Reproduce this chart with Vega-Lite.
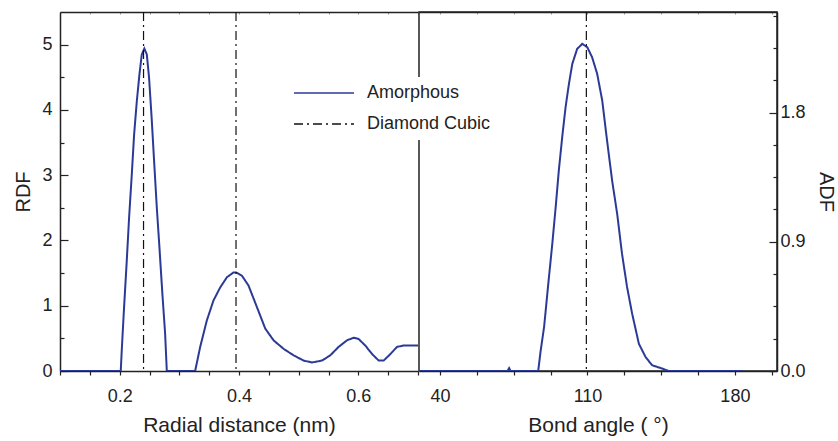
{
  "$schema": "https://vega.github.io/schema/vega-lite/v6.json",
  "padding": {"left": 13, "top": 10, "right": 2, "bottom": 5},
  "spacing": -1.5,
  "config": {
    "font": "Liberation Sans",
    "view": {"stroke": "#222", "strokeWidth": 1.5},
    "axis": {
      "domainColor": "#222", "domainWidth": 1.5, "tickColor": "#222", "tickWidth": 1.2,
      "labelColor": "#222", "titleColor": "#222", "labelFontSize": 18, "titleFontSize": 21,
      "titleFontWeight": "normal", "grid": false, "labelFont": "Liberation Sans", "titleFont": "Liberation Sans",
      "labelOverlap": false, "labelFlush": false
    }
  },
  "datasets": {
    "rdf": [
      {"r": 0.1, "g": 0, "series": "Amorphous"},
      {"r": 0.2018, "g": 0, "series": "Amorphous"},
      {"r": 0.2035, "g": 0.317, "series": "Amorphous"},
      {"r": 0.2074, "g": 0.979, "series": "Amorphous"},
      {"r": 0.2119, "g": 1.69, "series": "Amorphous"},
      {"r": 0.2158, "g": 2.35, "series": "Amorphous"},
      {"r": 0.2203, "g": 3.01, "series": "Amorphous"},
      {"r": 0.2242, "g": 3.62, "series": "Amorphous"},
      {"r": 0.2287, "g": 4.13, "series": "Amorphous"},
      {"r": 0.2331, "g": 4.54, "series": "Amorphous"},
      {"r": 0.2371, "g": 4.85, "series": "Amorphous"},
      {"r": 0.2414, "g": 4.94, "series": "Amorphous"},
      {"r": 0.2455, "g": 4.85, "series": "Amorphous"},
      {"r": 0.2493, "g": 4.49, "series": "Amorphous"},
      {"r": 0.2539, "g": 3.83, "series": "Amorphous"},
      {"r": 0.2577, "g": 3.22, "series": "Amorphous"},
      {"r": 0.2622, "g": 2.51, "series": "Amorphous"},
      {"r": 0.2666, "g": 1.9, "series": "Amorphous"},
      {"r": 0.2716, "g": 1.18, "series": "Amorphous"},
      {"r": 0.2762, "g": 0.57, "series": "Amorphous"},
      {"r": 0.279, "g": 0, "series": "Amorphous"},
      {"r": 0.3265, "g": 0, "series": "Amorphous"},
      {"r": 0.3349, "g": 0.367, "series": "Amorphous"},
      {"r": 0.3461, "g": 0.775, "series": "Amorphous"},
      {"r": 0.3572, "g": 1.08, "series": "Amorphous"},
      {"r": 0.3685, "g": 1.28, "series": "Amorphous"},
      {"r": 0.3797, "g": 1.436, "series": "Amorphous"},
      {"r": 0.3908, "g": 1.51, "series": "Amorphous"},
      {"r": 0.3953, "g": 1.51, "series": "Amorphous"},
      {"r": 0.4049, "g": 1.46, "series": "Amorphous"},
      {"r": 0.4159, "g": 1.31, "series": "Amorphous"},
      {"r": 0.43, "g": 0.98, "series": "Amorphous"},
      {"r": 0.444, "g": 0.65, "series": "Amorphous"},
      {"r": 0.4579, "g": 0.47, "series": "Amorphous"},
      {"r": 0.4747, "g": 0.34, "series": "Amorphous"},
      {"r": 0.4915, "g": 0.24, "series": "Amorphous"},
      {"r": 0.5082, "g": 0.16, "series": "Amorphous"},
      {"r": 0.5223, "g": 0.13, "series": "Amorphous"},
      {"r": 0.5391, "g": 0.16, "series": "Amorphous"},
      {"r": 0.553, "g": 0.24, "series": "Amorphous"},
      {"r": 0.567, "g": 0.37, "series": "Amorphous"},
      {"r": 0.581, "g": 0.47, "series": "Amorphous"},
      {"r": 0.5921, "g": 0.51, "series": "Amorphous"},
      {"r": 0.6005, "g": 0.49, "series": "Amorphous"},
      {"r": 0.6117, "g": 0.39, "series": "Amorphous"},
      {"r": 0.623, "g": 0.26, "series": "Amorphous"},
      {"r": 0.6341, "g": 0.16, "series": "Amorphous"},
      {"r": 0.6425, "g": 0.16, "series": "Amorphous"},
      {"r": 0.6537, "g": 0.26, "series": "Amorphous"},
      {"r": 0.6649, "g": 0.37, "series": "Amorphous"},
      {"r": 0.676, "g": 0.39, "series": "Amorphous"},
      {"r": 0.7, "g": 0.39, "series": "Amorphous"}
    ],
    "rdfdc": [
      {"r": 0.24, "series": "Diamond Cubic"},
      {"r": 0.395, "series": "Diamond Cubic"}
    ],
    "adf": [
      {"a": 30, "f": 0, "series": "Amorphous"},
      {"a": 72, "f": 0, "series": "Amorphous"},
      {"a": 72.8, "f": 0.02, "series": "Amorphous"},
      {"a": 73.5, "f": 0, "series": "Amorphous"},
      {"a": 86.6, "f": 0, "series": "Amorphous"},
      {"a": 87.8, "f": 0.144, "series": "Amorphous"},
      {"a": 89.4, "f": 0.306, "series": "Amorphous"},
      {"a": 91.4, "f": 0.608, "series": "Amorphous"},
      {"a": 93.3, "f": 0.886, "series": "Amorphous"},
      {"a": 94.9, "f": 1.141, "series": "Amorphous"},
      {"a": 96.4, "f": 1.397, "series": "Amorphous"},
      {"a": 98.0, "f": 1.628, "series": "Amorphous"},
      {"a": 99.6, "f": 1.837, "series": "Amorphous"},
      {"a": 101.2, "f": 2.0, "series": "Amorphous"},
      {"a": 102.8, "f": 2.139, "series": "Amorphous"},
      {"a": 105.1, "f": 2.243, "series": "Amorphous"},
      {"a": 107.5, "f": 2.278, "series": "Amorphous"},
      {"a": 109.9, "f": 2.255, "series": "Amorphous"},
      {"a": 112.2, "f": 2.185, "series": "Amorphous"},
      {"a": 114.6, "f": 2.07, "series": "Amorphous"},
      {"a": 117.0, "f": 1.884, "series": "Amorphous"},
      {"a": 119.3, "f": 1.605, "series": "Amorphous"},
      {"a": 121.7, "f": 1.327, "series": "Amorphous"},
      {"a": 124.1, "f": 1.095, "series": "Amorphous"},
      {"a": 126.4, "f": 0.817, "series": "Amorphous"},
      {"a": 128.8, "f": 0.585, "series": "Amorphous"},
      {"a": 131.2, "f": 0.4, "series": "Amorphous"},
      {"a": 134.4, "f": 0.19, "series": "Amorphous"},
      {"a": 137.6, "f": 0.097, "series": "Amorphous"},
      {"a": 140.7, "f": 0.04, "series": "Amorphous"},
      {"a": 145.5, "f": 0.017, "series": "Amorphous"},
      {"a": 148.6, "f": 0, "series": "Amorphous"},
      {"a": 183.6, "f": 0, "series": "Amorphous"}
    ],
    "adfdc": [
      {"a": 109.47, "series": "Diamond Cubic"}
    ]
  },
  "hconcat": [
    {
      "width": 358,
      "height": 359,
      "view": {"stroke": null},
      "encoding": {
        "color": {
          "field": "series", "type": "nominal",
          "scale": {"domain": ["Amorphous", "Diamond Cubic"], "range": ["#2B3A96", "#111111"]},
          "legend": {
            "title": null, "orient": "none", "legendX": 227, "legendY": 65,
            "symbolType": "stroke", "symbolSize": 3600, "symbolStrokeWidth": 1.6,
            "labelFontSize": 18, "labelOffset": 12, "rowPadding": 11, "clipHeight": 20, "fillColor": "white",
            "padding": 6, "labelColor": "#222", "labelFont": "Liberation Sans"
          }
        },
        "strokeDash": {
          "field": "series", "type": "nominal",
          "scale": {"domain": ["Amorphous", "Diamond Cubic"], "range": [[1, 0], [9, 4, 2, 4]]},
          "legend": {
            "title": null, "orient": "none", "legendX": 227, "legendY": 65,
            "symbolType": "stroke", "symbolSize": 3600, "symbolStrokeWidth": 1.6,
            "labelFontSize": 18, "labelOffset": 12, "rowPadding": 11, "clipHeight": 20, "fillColor": "white",
            "padding": 6, "labelColor": "#222", "labelFont": "Liberation Sans"
          }
        }
      },
      "layer": [
        {
          "data": {"name": "rdf"},
          "mark": {"type": "line", "strokeWidth": 2, "clip": true},
          "encoding": {
            "x": {
              "field": "r", "type": "quantitative",
              "scale": {"domain": [0.1, 0.7], "nice": false, "zero": false},
              "axis": {
                "title": "Radial distance (nm)",
                "values": [0.1, 0.15, 0.2, 0.25, 0.3, 0.35, 0.4, 0.45, 0.5, 0.55, 0.6, 0.65, 0.7],
                "labelExpr": "(datum.value == 0.2 || datum.value == 0.4 || datum.value == 0.6) ? format(datum.value, '.1f') : ''",
                "labelFontSize": {"condition": {"test": "datum.value == 0.2 || datum.value == 0.4 || datum.value == 0.6", "value": 18}, "value": 0},
                "tickSize": 4, "labelPadding": 12.5, "titlePadding": 9
              }
            },
            "y": {
              "field": "g", "type": "quantitative",
              "scale": {"domain": [0, 5.5], "nice": false},
              "axis": {
                "title": "RDF", "titleFontSize": 20,
                "values": [0, 0.5, 1, 1.5, 2, 2.5, 3, 3.5, 4, 4.5, 5],
                "labelExpr": "datum.value % 1 == 0 ? format(datum.value, 'd') : ''",
                "labelFontSize": {"condition": {"test": "datum.value % 1 == 0", "value": 18}, "value": 0},
                "tickSize": {"condition": {"test": "datum.value % 1 == 0", "value": -8}, "value": -4},
                "labelPadding": 16, "titlePadding": 8
              }
            }
          }
        },
        {
          "data": {"name": "rdfdc"},
          "mark": {"type": "rule", "strokeWidth": 1.2},
          "encoding": {
            "x": {
              "field": "r", "type": "quantitative",
              "scale": {"domain": [0.1, 0.7], "nice": false, "zero": false},
              "axis": {
                "orient": "top", "title": null, "labels": false,
                "values": [0.1, 0.15, 0.2, 0.25, 0.3, 0.35, 0.4, 0.45, 0.5, 0.55, 0.6, 0.65, 0.7],
                "tickSize": -2, "tickColor": "#999", "tickWidth": 1
              }
            }
          }
        }
      ],
      "resolve": {"axis": {"x": "independent"}}
    },
    {
      "width": 358,
      "height": 359,
      "encoding": {
        "color": {"field": "series", "type": "nominal", "legend": null},
        "strokeDash": {"field": "series", "type": "nominal", "legend": null}
      },
      "layer": [
        {
          "data": {"name": "adf"},
          "mark": {"type": "line", "strokeWidth": 2, "clip": true},
          "encoding": {
            "x": {
              "field": "a", "type": "quantitative",
              "scale": {"domain": [30, 200], "nice": false, "zero": false},
              "axis": {
                "title": "Bond angle ( °)",
                "values": [40, 57.5, 75, 92.5, 110, 127.5, 145, 162.5, 180, 197.5],
                "labelExpr": "(datum.value == 40 || datum.value == 110 || datum.value == 180) ? format(datum.value, 'd') : ''",
                "labelFontSize": {"condition": {"test": "datum.value == 40 || datum.value == 110 || datum.value == 180", "value": 18}, "value": 0},
                "tickSize": 4, "labelPadding": 12.5, "titlePadding": 9
              }
            },
            "y": {
              "field": "f", "type": "quantitative",
              "scale": {"domain": [0, 2.5], "nice": false},
              "axis": {
                "orient": "right", "title": "ADF", "titleFontSize": 20,
                "values": [0, 0.225, 0.45, 0.675, 0.9, 1.125, 1.35, 1.575, 1.8, 2.025, 2.25, 2.475],
                "labelExpr": "(datum.value == 0 || datum.value == 0.9 || datum.value == 1.8) ? format(datum.value, '.1f') : ''",
                "labelFontSize": {"condition": {"test": "datum.value == 0 || datum.value == 0.9 || datum.value == 1.8", "value": 18}, "value": 0},
                "tickSize": {"condition": {"test": "datum.value == 0 || datum.value == 0.9 || datum.value == 1.8", "value": -8}, "value": -4},
                "labelPadding": 11, "titlePadding": 10
              }
            }
          }
        },
        {
          "data": {"name": "adfdc"},
          "mark": {"type": "rule", "strokeWidth": 1.2},
          "encoding": {
            "x": {
              "field": "a", "type": "quantitative",
              "scale": {"domain": [30, 200], "nice": false, "zero": false},
              "axis": {
                "orient": "top", "title": null, "labels": false,
                "values": [40, 57.5, 75, 92.5, 110, 127.5, 145, 162.5, 180, 197.5],
                "tickSize": -2, "tickColor": "#999", "tickWidth": 1
              }
            }
          }
        }
      ],
      "resolve": {"axis": {"x": "independent"}}
    }
  ]
}
